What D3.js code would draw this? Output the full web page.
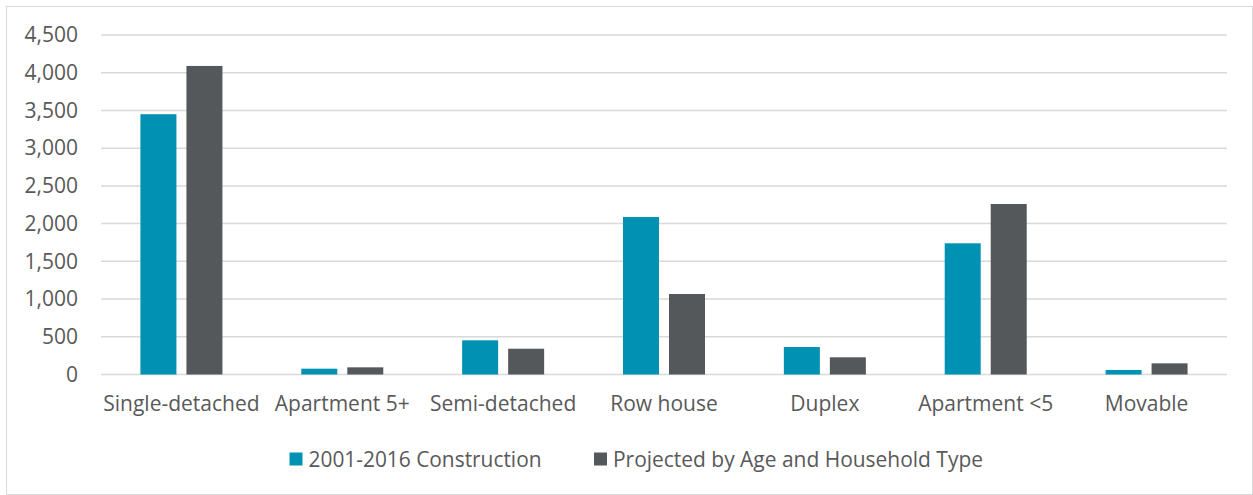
<!DOCTYPE html>
<html>
<head>
<meta charset="utf-8">
<script src="https://cdn.jsdelivr.net/npm/d3@7"></script>
<style>
  body { margin: 0; background: #fff; }
  svg text { font-family: "Open Sans", "Noto Sans", sans-serif; fill: #595959; }
</style>
</head>
<body>
<svg id="chart" width="1253" height="495"></svg>
<script>
const categories = ['Single-detached', 'Apartment 5+', 'Semi-detached', 'Row house', 'Duplex', 'Apartment <5', 'Movable'];
const construction = [3450, 77, 453, 2088, 364, 1739, 60];
const projected = [4090, 95, 342, 1067, 228, 2260, 148];
const seriesNames = ['2001-2016 Construction', 'Projected by Age and Household Type'];
const colors = ['#0091b3', '#54585a'];
const yTicks = [0, 500, 1000, 1500, 2000, 2500, 3000, 3500, 4000, 4500];

const svg = d3.select('#chart');

// outer frame
svg.append('rect')
  .attr('x', 6.5).attr('y', 6.5)
  .attr('width', 1246).attr('height', 488)
  .attr('fill', 'none').attr('stroke', '#d9d9d9');

const plotLeft = 101, plotRight = 1227, plotTop = 35, plotBottom = 374.5;

const x = d3.scaleBand().domain(categories).range([plotLeft, plotRight]);
const y = d3.scaleLinear().domain([0, 4500]).range([plotBottom, plotTop]);

// gridlines
svg.append('g')
  .selectAll('line')
  .data(yTicks)
  .enter().append('line')
    .attr('x1', plotLeft).attr('x2', plotRight)
    .attr('y1', d => y(d)).attr('y2', d => y(d))
    .attr('stroke', '#d9d9d9').attr('stroke-width', 1.5);

// y axis labels
const yAxis = svg.append('g')
  .attr('transform', `translate(${plotLeft}, 0)`)
  .call(d3.axisLeft(y).tickValues(yTicks).tickFormat(d3.format(',')).tickSize(0).tickPadding(23));
yAxis.select('.domain').remove();
yAxis.selectAll('text').attr('font-size', 21).attr('font-family', null).attr('fill', null);

// x axis labels
const xAxis = svg.append('g')
  .attr('transform', `translate(0, ${plotBottom})`)
  .call(d3.axisBottom(x).tickSize(0).tickPadding(22));
xAxis.select('.domain').remove();
xAxis.selectAll('text').attr('font-size', 21).attr('font-family', null).attr('fill', null);

// bars
const barW = 36, gap = 10;
const rows = categories.map((c, i) => ({ cat: c, vals: [construction[i], projected[i]] }));

const groups = svg.append('g')
  .selectAll('g')
  .data(rows)
  .enter().append('g')
    .attr('transform', d => `translate(${x(d.cat) + x.bandwidth() / 2}, 0)`);

groups.selectAll('rect')
  .data(d => d.vals)
  .enter().append('rect')
    .attr('x', (d, i) => i === 0 ? -gap / 2 - barW : gap / 2)
    .attr('y', d => y(d))
    .attr('width', barW)
    .attr('height', d => plotBottom - y(d))
    .attr('fill', (d, i) => colors[i]);

// legend
const legendX = [289.5, 594];
const legendW = [233, 370];
const legend = svg.append('g')
  .selectAll('g')
  .data(seriesNames)
  .enter().append('g')
    .attr('transform', (d, i) => `translate(${legendX[i]}, 452.5)`);

legend.append('rect')
  .attr('width', 13).attr('height', 13)
  .attr('fill', (d, i) => colors[i]);

legend.append('text')
  .attr('x', 19).attr('y', 7)
  .attr('dy', '0.35em')
  .attr('font-size', 21)
  .attr('textLength', (d, i) => legendW[i])
  .attr('lengthAdjust', 'spacingAndGlyphs')
  .text(d => d);
</script>
</body>
</html>
